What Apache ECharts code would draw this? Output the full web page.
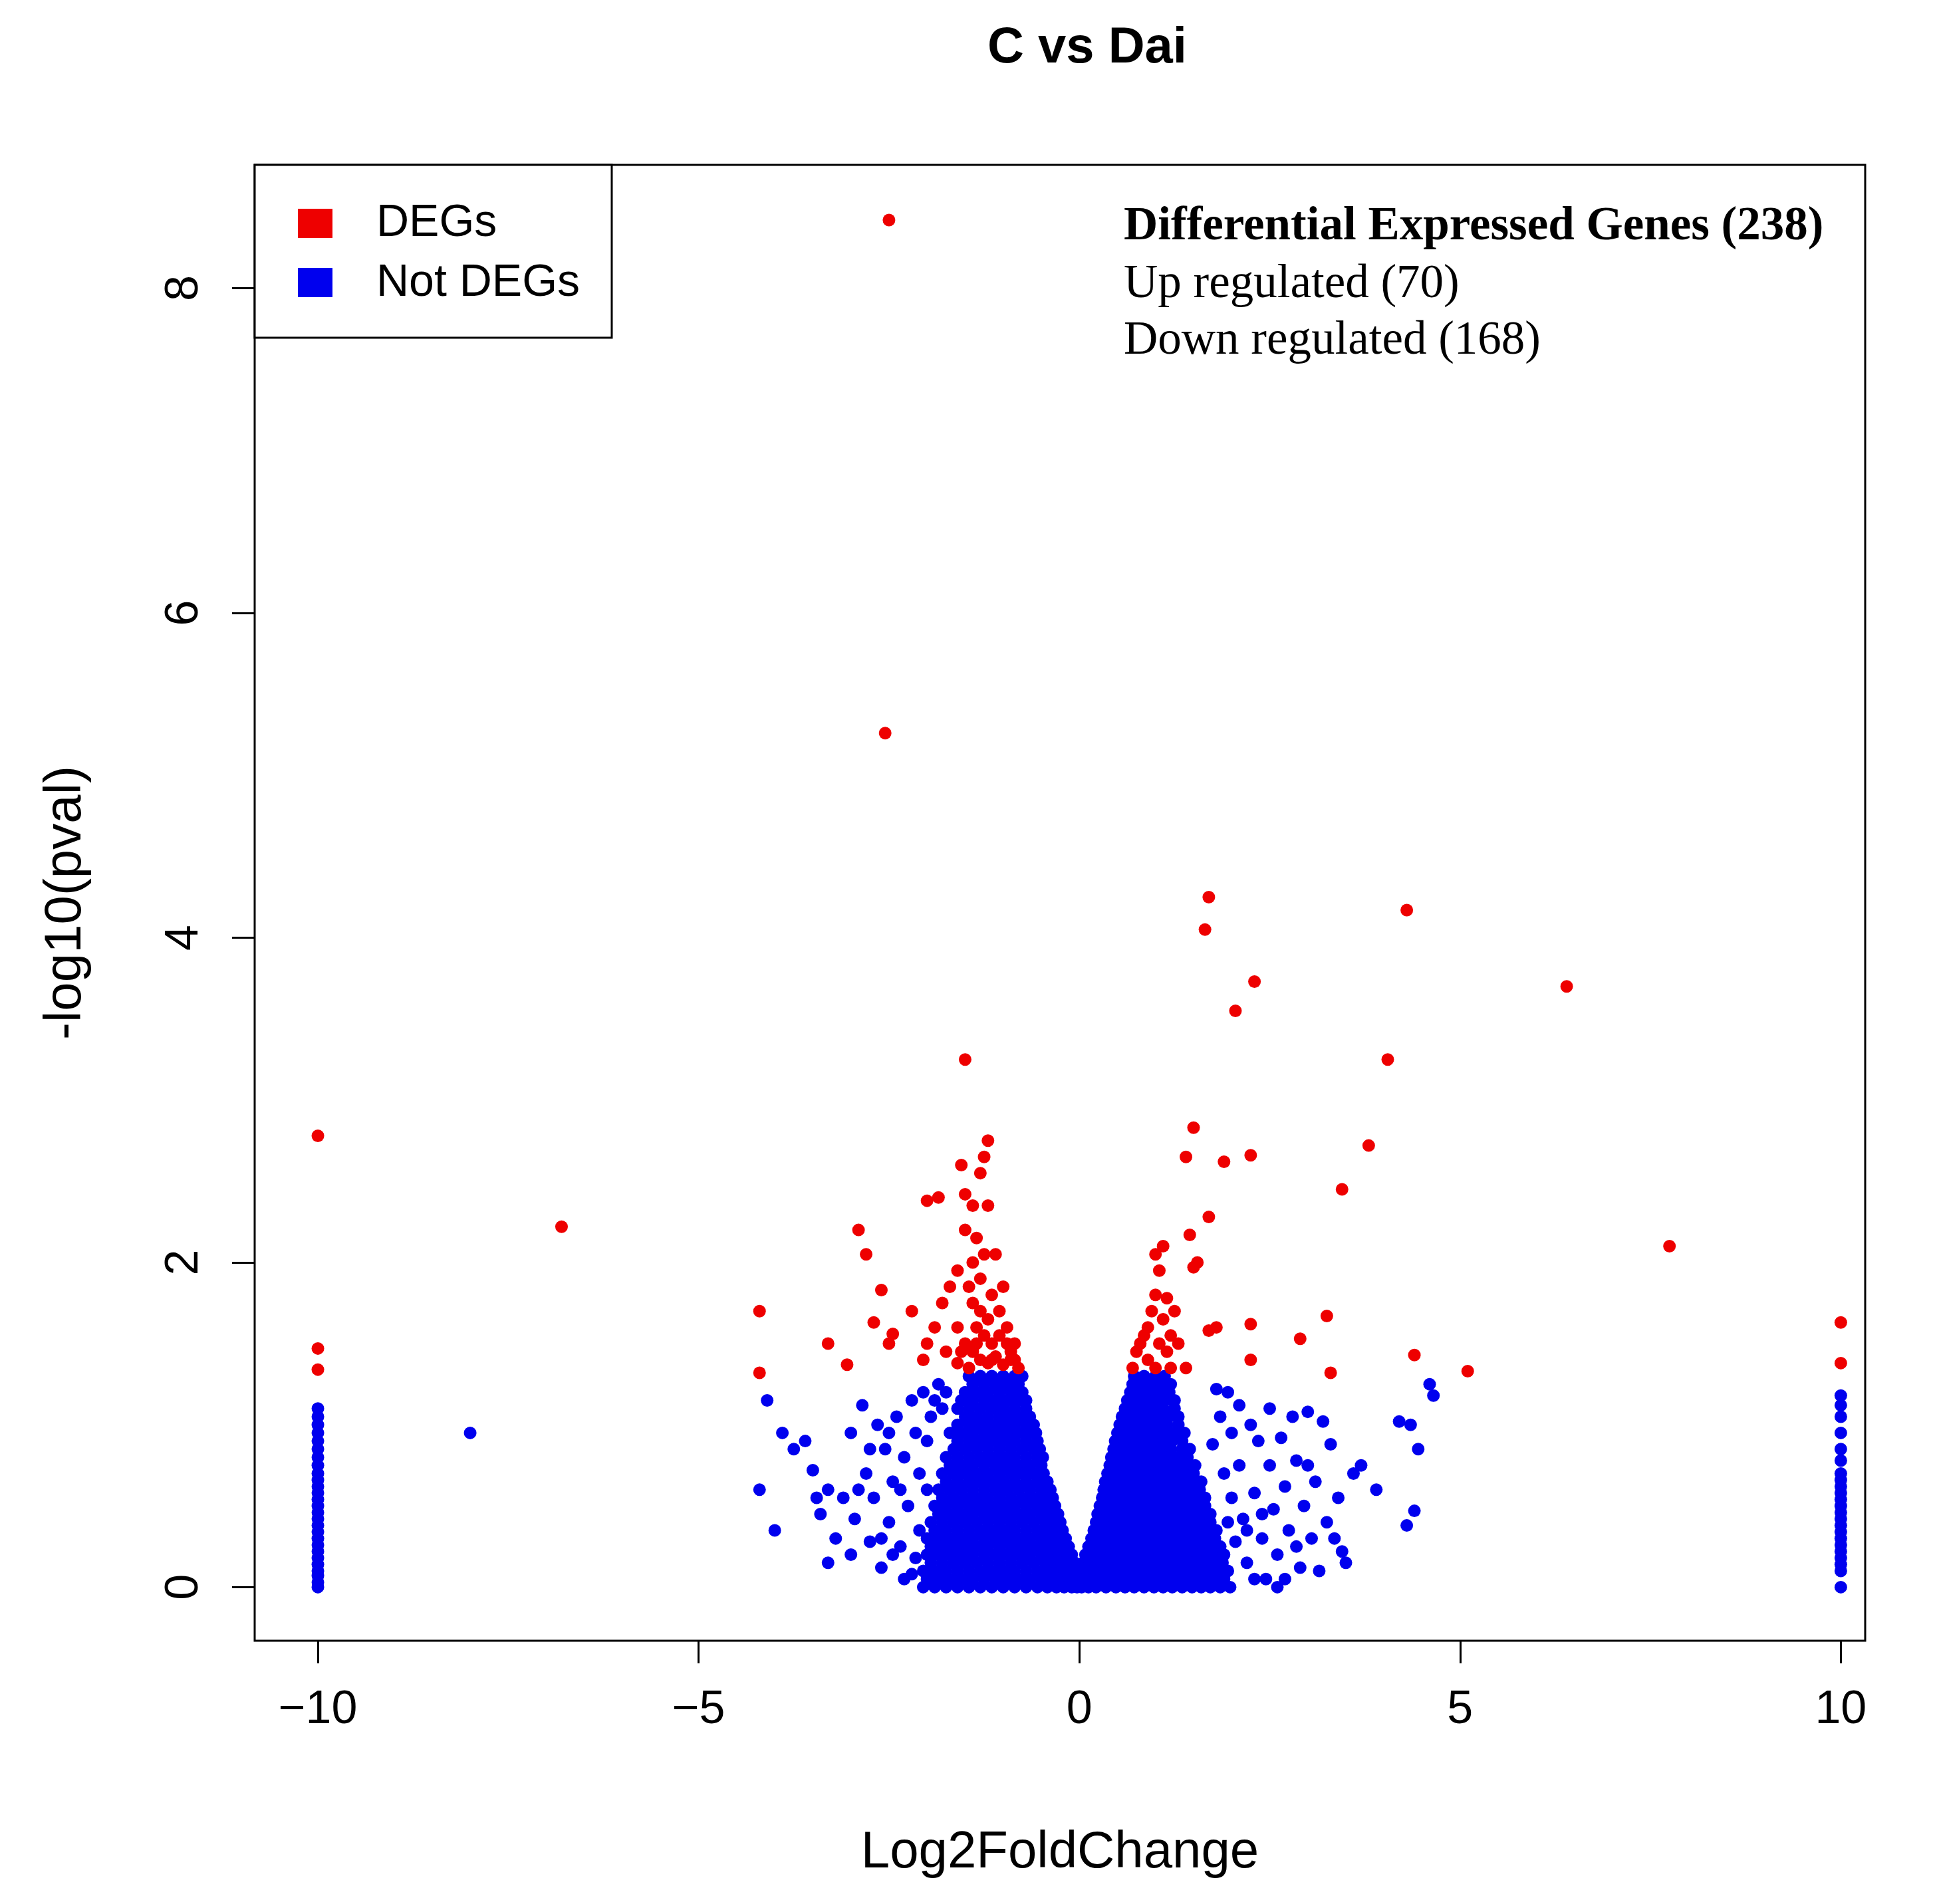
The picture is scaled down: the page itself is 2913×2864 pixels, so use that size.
<!DOCTYPE html>
<html>
<head>
<meta charset="utf-8">
<script src="https://cdn.jsdelivr.net/npm/echarts@6.0.0/dist/echarts.min.js"></script>
<style>html,body{margin:0;padding:0;background:#fff}#chart{width:2913px;height:2864px}</style>
</head>
<body>
<div id="chart"></div>
<script>
// values: [log2FC, -log10(p)]
const degPoints = [
  [-2.5,8.42],[-2.55,5.26],[-10,2.78],[-10,1.47],[-10,1.34],[-6.8,2.22],[-4.2,1.7],[-4.2,1.32],
  [-3.3,1.5],[-3.05,1.37],[-2.9,2.2],[-2.8,2.05],[-2.6,1.83],[-2.7,1.63],[-2.5,1.5],[-2.45,1.56],
  [-1.5,3.25],[-1.2,2.75],[-1.25,2.65],[-1.3,2.55],[-1.55,2.6],[-1.5,2.42],[-1.4,2.35],[-2.0,2.38],
  [-1.85,2.4],[-1.2,2.35],[-1.5,2.2],[-1.35,2.15],[-1.1,2.05],[-1.6,1.95],[-1.3,1.9],[-1.7,1.85],
  [-1.0,1.85],[-1.8,1.75],[-1.4,1.75],[-2.2,1.7],[-1.9,1.6],[-1.6,1.6],[-1.2,1.65],[-2.0,1.5],
  [-1.75,1.45],[-2.05,1.4],[-1.5,1.5],[-1.4,1.45],[-1.3,1.4],[-1.2,1.38],[-1.1,1.42],[-1.0,1.37],
  [-0.9,1.4],[-0.85,1.5],[-1.05,1.55],[-1.25,1.55],[-0.95,1.6],[-1.15,1.5],[-0.8,1.35],[-1.35,1.6],
  [-1.45,1.35],[-1.6,1.38],[-0.9,1.45],[-1.25,2.05],[-1.4,2.0],[-1.15,1.8],[-1.45,1.85],[-1.05,1.7],
  [-1.3,1.7],[-0.95,1.5],[-1.15,1.4],[-1.35,1.5],[-1.55,1.45],[-0.85,1.4],
  [1.7,4.25],[1.65,4.05],[4.3,4.17],[2.3,3.73],[2.05,3.55],[6.4,3.7],[4.05,3.25],[1.5,2.83],
  [3.8,2.72],[1.4,2.65],[1.9,2.62],[2.25,2.66],[3.45,2.45],[1.7,2.28],[1.45,2.17],[1.1,2.1],
  [1.0,2.05],[1.05,1.95],[1.55,2.0],[1.5,1.97],[7.75,2.1],[10,1.63],[10,1.38],[1.0,1.8],
  [1.15,1.78],[1.25,1.7],[1.8,1.6],[1.7,1.58],[2.25,1.62],[3.25,1.67],[2.9,1.53],[4.4,1.43],
  [2.25,1.4],[3.3,1.32],[5.1,1.33],[0.9,1.6],[1.1,1.65],[0.8,1.5],[0.75,1.45],[0.9,1.4],
  [1.0,1.35],[1.15,1.45],[1.3,1.5],[1.4,1.35],[0.7,1.35],[1.2,1.35],[1.05,1.5],[0.95,1.7],
  [1.2,1.55],[0.85,1.55]
];

// dense core of not-DEGs, one list of x per row height
const coreRowY = [1.3,1.25,1.2,1.15,1.1,1.05,1.0,0.95,0.9,0.85,0.8,0.75,0.7,0.65,0.6,0.55,0.5,0.45,0.4,0.35,0.3,0.25,0.2,0.15,0.1,0.05,0.0];
const coreRowX = [
  [-1.45,-1.3,-1.15,-1.0,-0.85,-0.75, 0.72,0.85,1.0,1.12],
  [-1.4,-1.25,-1.1,-0.95,-0.8, 0.7,0.82,0.95,1.08,1.2],
  [-1.5,-1.35,-1.2,-1.05,-0.9,-0.75, 0.67,0.8,0.92,1.05,1.18],
  [-1.55,-1.4,-1.25,-1.1,-0.95,-0.8,-0.7, 0.63,0.75,0.88,1.0,1.13,1.25],
  [-1.6,-1.45,-1.3,-1.15,-1.0,-0.85,-0.7, 0.6,0.72,0.85,0.98,1.1,1.25],
  [-1.5,-1.35,-1.2,-1.05,-0.9,-0.75,-0.65, 0.56,0.68,0.8,0.93,1.05,1.18,1.3],
  [-1.6,-1.45,-1.3,-1.15,-1.0,-0.85,-0.7,-0.6, 0.53,0.65,0.78,0.9,1.02,1.15,1.3],
  [-1.7,-1.55,-1.4,-1.25,-1.1,-0.95,-0.8,-0.65,-0.57, 0.5,0.62,0.75,0.88,1.0,1.12,1.25,1.38],
  [-1.6,-1.45,-1.3,-1.15,-1.0,-0.85,-0.7,-0.55, 0.47,0.6,0.72,0.85,0.98,1.1,1.22,1.35],
  [-1.65,-1.5,-1.35,-1.2,-1.05,-0.9,-0.75,-0.6,-0.52, 0.45,0.57,0.7,0.82,0.95,1.08,1.2,1.35,1.45],
  [-1.75,-1.6,-1.45,-1.3,-1.15,-1.0,-0.85,-0.7,-0.55,-0.48, 0.42,0.55,0.68,0.8,0.92,1.05,1.18,1.3,1.42],
  [-1.7,-1.55,-1.4,-1.25,-1.1,-0.95,-0.8,-0.65,-0.5, 0.4,0.52,0.65,0.78,0.9,1.02,1.15,1.28,1.4,1.52],
  [-1.8,-1.65,-1.5,-1.35,-1.2,-1.05,-0.9,-0.75,-0.6,-0.47, 0.37,0.5,0.62,0.75,0.88,1.0,1.12,1.25,1.38,1.5],
  [-1.75,-1.6,-1.45,-1.3,-1.15,-1.0,-0.85,-0.7,-0.55,-0.42, 0.34,0.47,0.6,0.72,0.85,0.98,1.1,1.22,1.35,1.48,1.6],
  [-1.85,-1.7,-1.55,-1.4,-1.25,-1.1,-0.95,-0.8,-0.65,-0.5,-0.38, 0.32,0.44,0.57,0.7,0.82,0.95,1.08,1.2,1.32,1.45,1.58],
  [-1.8,-1.65,-1.5,-1.35,-1.2,-1.05,-0.9,-0.75,-0.6,-0.45,-0.35, 0.3,0.42,0.55,0.68,0.8,0.92,1.05,1.18,1.3,1.42,1.55,1.65],
  [-1.9,-1.75,-1.6,-1.45,-1.3,-1.15,-1.0,-0.85,-0.7,-0.55,-0.42,-0.32, 0.27,0.4,0.52,0.65,0.78,0.9,1.02,1.15,1.28,1.4,1.52,1.65],
  [-1.85,-1.7,-1.55,-1.4,-1.25,-1.1,-0.95,-0.8,-0.65,-0.5,-0.37,-0.28, 0.24,0.37,0.5,0.62,0.75,0.88,1.0,1.12,1.25,1.38,1.5,1.62,1.72],
  [-1.95,-1.8,-1.65,-1.5,-1.35,-1.2,-1.05,-0.9,-0.75,-0.6,-0.45,-0.33,-0.25, 0.22,0.34,0.47,0.6,0.72,0.85,0.98,1.1,1.22,1.35,1.48,1.6,1.72],
  [-1.9,-1.75,-1.6,-1.45,-1.3,-1.15,-1.0,-0.85,-0.7,-0.55,-0.4,-0.3,-0.22, 0.19,0.3,0.42,0.55,0.68,0.8,0.92,1.05,1.18,1.3,1.42,1.55,1.68,1.8],
  [-2.0,-1.85,-1.7,-1.55,-1.4,-1.25,-1.1,-0.95,-0.8,-0.65,-0.5,-0.37,-0.27,-0.18, 0.16,0.27,0.4,0.52,0.65,0.78,0.9,1.02,1.15,1.28,1.4,1.52,1.65,1.78],
  [-1.95,-1.8,-1.65,-1.5,-1.35,-1.2,-1.05,-0.9,-0.75,-0.6,-0.45,-0.32,-0.22,-0.14, 0.12,0.22,0.35,0.48,0.6,0.72,0.85,0.98,1.1,1.22,1.35,1.48,1.6,1.72,1.85],
  [-2.0,-1.85,-1.7,-1.55,-1.4,-1.25,-1.1,-0.95,-0.8,-0.65,-0.5,-0.38,-0.27,-0.18,-0.1, 0.08,0.18,0.3,0.42,0.55,0.68,0.8,0.92,1.05,1.18,1.3,1.42,1.55,1.68,1.8,1.9],
  [-1.95,-1.8,-1.65,-1.5,-1.35,-1.2,-1.05,-0.9,-0.75,-0.6,-0.45,-0.33,-0.22,-0.13,-0.06, 0.05,0.14,0.25,0.37,0.5,0.62,0.75,0.88,1.0,1.12,1.25,1.38,1.5,1.62,1.75,1.88],
  [-2.05,-1.9,-1.75,-1.6,-1.45,-1.3,-1.15,-1.0,-0.85,-0.7,-0.55,-0.42,-0.3,-0.2,-0.1,-0.03, 0.03,0.1,0.2,0.32,0.45,0.58,0.7,0.82,0.95,1.08,1.2,1.32,1.45,1.58,1.7,1.82,1.95],
  [-2.0,-1.85,-1.7,-1.55,-1.4,-1.25,-1.1,-0.95,-0.8,-0.65,-0.5,-0.37,-0.25,-0.15,-0.06, 0.0,0.07,0.16,0.27,0.4,0.52,0.65,0.78,0.9,1.02,1.15,1.28,1.4,1.52,1.65,1.78,1.9],
  [-2.05,-1.9,-1.75,-1.6,-1.45,-1.3,-1.15,-1.0,-0.85,-0.7,-0.55,-0.42,-0.3,-0.2,-0.1,-0.03, 0.03,0.12,0.22,0.35,0.48,0.6,0.72,0.85,0.98,1.1,1.22,1.35,1.48,1.6,1.72,1.85,1.98]
];

// scattered not-DEGs outside the core
const sparsePoints = [
  [-8.0,0.95],[-4.1,1.15],[-3.9,0.95],[-4.2,0.6],[-4.0,0.35],[-3.75,0.85],[-3.6,0.9],[-3.5,0.72],[-3.4,0.45],
  [-3.3,0.6],[-3.2,0.3],[-3.1,0.55],[-3.0,0.95],[-3.0,0.2],[-2.95,0.42],[-2.85,1.12],[-2.8,0.7],[-2.75,0.28],
  [-2.7,0.55],[-2.65,1.0],[-2.6,0.12],[-2.55,0.85],[-2.5,0.4],[-2.45,0.65],[-2.4,1.05],[-2.35,0.25],[-2.3,0.8],
  [-2.25,0.5],[-2.2,1.15],[-2.2,0.08],[-2.15,0.95],[-2.1,0.35],[-2.1,0.7],[-2.05,1.2],[-2.0,0.6],[-2.0,0.9],
  [-1.95,1.05],[-1.9,0.22],[-1.85,1.25],[-1.8,1.1],[-1.75,1.2],[-2.3,0.05],[-2.6,0.3],[-2.9,0.6],[-3.3,0.15],
  [-3.45,0.55],[-2.15,0.18],[-2.35,0.6],[-2.5,0.95],[-2.75,0.85],[-1.9,1.15],[-2.45,0.2],
  [4.2,1.02],[4.35,1.0],[4.6,1.25],[4.65,1.18],[4.45,0.85],[4.4,0.47],[4.3,0.38],[3.9,0.6],[3.7,0.75],
  [3.6,0.7],[3.5,0.15],[3.45,0.22],[3.4,0.55],[3.3,0.88],[3.25,0.4],[3.2,1.02],[3.1,0.65],[3.05,0.3],
  [3.0,1.08],[2.95,0.5],[2.9,0.12],[2.85,0.78],[2.8,1.05],[2.75,0.35],[2.7,0.62],[2.65,0.92],[2.6,0.2],
  [2.55,0.48],[2.5,0.75],[2.5,1.1],[2.45,0.05],[2.4,0.3],[2.35,0.9],[2.3,0.58],[2.25,1.0],[2.2,0.15],
  [2.15,0.42],[2.1,0.75],[2.1,1.12],[2.05,0.28],[2.0,0.95],[2.0,0.55],[1.95,1.2],[1.9,0.1],[1.9,0.7],
  [1.85,1.05],[1.8,1.22],[1.75,0.88],[2.6,0.0],[2.85,0.25],[3.15,0.1],[3.35,0.3],[2.4,0.45],[2.7,0.05],
  [3.0,0.75],[2.2,0.35],[1.95,0.4],[2.3,0.05]
];

const colMinus10 = [0,0.03,0.07,0.1,0.14,0.18,0.22,0.26,0.3,0.34,0.38,0.42,0.46,0.5,0.54,0.58,0.62,0.66,0.7,0.75,0.8,0.85,0.9,0.95,1.0,1.05,1.1];
const colPlus10 = [0,0.1,0.14,0.18,0.22,0.26,0.3,0.34,0.38,0.42,0.46,0.5,0.54,0.58,0.62,0.66,0.7,0.78,0.85,0.95,1.05,1.12,1.18];

const xTicks = [-10, -5, 0, 5, 10];
const yTicks = [0, 2, 4, 6, 8];

const notDegPoints = [];
coreRowY.forEach((y, i) => coreRowX[i].forEach(x => notDegPoints.push([x, y])));
sparsePoints.forEach(p => notDegPoints.push(p));
colMinus10.forEach(y => notDegPoints.push([-10, y]));
colPlus10.forEach(y => notDegPoints.push([10, y]));

const chart = echarts.init(document.getElementById('chart'));
const sansFont = '"Liberation Sans", Arial, sans-serif';
const serifFont = '"Liberation Serif", "Times New Roman", serif';

chart.setOption({
  backgroundColor: '#ffffff',
  animation: false,
  title: {
    text: 'C vs Dai', left: 1630, top: 30, textAlign: 'center',
    textStyle: { fontFamily: sansFont, fontWeight: 'bold', fontSize: 76, color: '#000' }
  },
  grid: { left: 383, right: 108, top: 248, bottom: 396, show: true, borderColor: '#000', borderWidth: 3 },
  xAxis: {
    type: 'value', min: -10.83, max: 10.32,
    name: 'Log2FoldChange', nameLocation: 'middle', nameGap: 280,
    nameTextStyle: { fontFamily: sansFont, fontSize: 78, color: '#000' },
    axisLine: { show: false, onZero: false },
    axisTick: { show: true, length: 34, lineStyle: { color: '#000', width: 3 }, customValues: xTicks },
    axisLabel: { fontFamily: sansFont, fontSize: 70, color: '#000', margin: 70, customValues: xTicks,
      formatter: v => (v < 0 ? '\u2212' + Math.abs(v) : '' + v) },
    splitLine: { show: false }
  },
  yAxis: {
    type: 'value', min: -0.33, max: 8.76,
    name: '-log10(pval)', nameLocation: 'middle', nameGap: 245,
    nameTextStyle: { fontFamily: sansFont, fontSize: 78, color: '#000' },
    axisLine: { show: false, onZero: false },
    axisTick: { show: true, length: 34, lineStyle: { color: '#000', width: 3 }, customValues: yTicks },
    axisLabel: { fontFamily: sansFont, fontSize: 70, color: '#000', margin: 70, rotate: 90, customValues: yTicks },
    splitLine: { show: false }
  },
  series: [
    { type: 'scatter', data: notDegPoints, symbolSize: 19, itemStyle: { color: '#0000ee', opacity: 1 } },
    { type: 'scatter', data: degPoints, symbolSize: 19, itemStyle: { color: '#ee0000', opacity: 1 } }
  ],
  graphic: [
    { type: 'rect', shape: { x: 383, y: 248, width: 537, height: 260 }, style: { fill: '#fff', stroke: '#000', lineWidth: 3 } },
    { type: 'rect', shape: { x: 448, y: 314, width: 52, height: 44 }, style: { fill: '#ee0000' } },
    { type: 'rect', shape: { x: 448, y: 403, width: 52, height: 44 }, style: { fill: '#0000ee' } },
    { type: 'text', x: 566, y: 336, style: { text: 'DEGs', font: '68px ' + sansFont, fill: '#000', textVerticalAlign: 'middle' } },
    { type: 'text', x: 566, y: 426, style: { text: 'Not DEGs', font: '68px ' + sansFont, fill: '#000', textVerticalAlign: 'middle' } },
    { type: 'text', x: 1690, y: 342, style: { text: 'Differential Expressed Genes (238)', font: 'bold 71px ' + serifFont, fill: '#000', textVerticalAlign: 'middle' } },
    { type: 'text', x: 1690, y: 428, style: { text: 'Up regulated (70)', font: '71px ' + serifFont, fill: '#000', textVerticalAlign: 'middle' } },
    { type: 'text', x: 1690, y: 513, style: { text: 'Down regulated (168)', font: '71px ' + serifFont, fill: '#000', textVerticalAlign: 'middle' } }
  ]
});
</script>
</body>
</html>
